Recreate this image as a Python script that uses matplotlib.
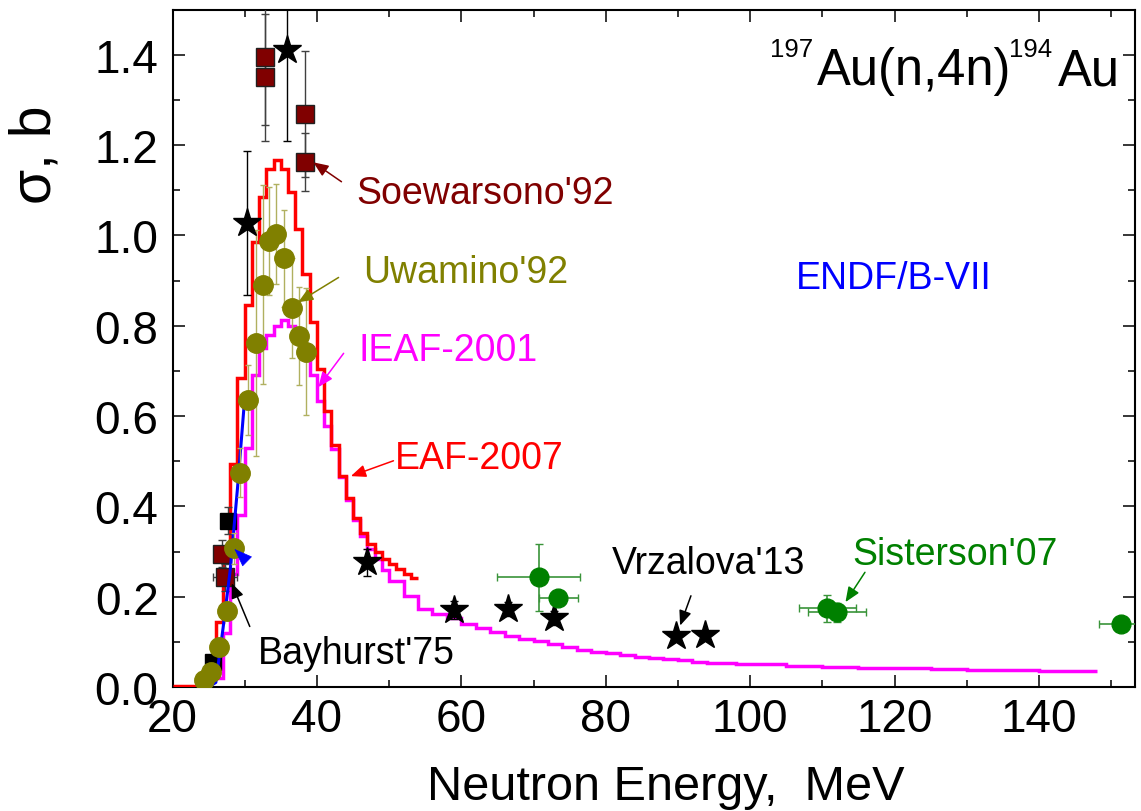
import matplotlib
matplotlib.use("Agg")
import matplotlib.pyplot as plt
from matplotlib.ticker import MultipleLocator

W, H = 1141, 812

DARKRED = "#800000"
OLIVE = "#808000"
OLIVE_ERR = "#b0b060"
GREEN = "#008000"
GREEN_ERR = "#3a943a"
MAGENTA = "#ff00ff"
RED = "#ff0000"
BLUE = "#0000ff"

# EAF-2007 group cross section (step histogram)
eaf_edges = [20, 24] + list(range(25, 55))
eaf_sigma = [0.003, 0.006, 0.03, 0.144, 0.30, 0.494, 0.684, 0.846, 0.985, 1.085,
             1.147, 1.168, 1.147, 1.097, 1.014, 0.915, 0.808, 0.704, 0.612, 0.535,
             0.468, 0.418, 0.374, 0.341, 0.317, 0.298, 0.283, 0.272, 0.261, 0.250,
             0.241]

# IEAF-2001 (step histogram)
ieaf_edges = list(range(26, 51)) + list(range(52, 101, 2)) + list(range(105, 146, 5)) + [148]
ieaf_sigma = [0.02, 0.12, 0.25, 0.38, 0.53, 0.69, 0.75, 0.78, 0.80, 0.813,
              0.80, 0.78, 0.74, 0.69, 0.634, 0.579, 0.527, 0.465, 0.414, 0.37,
              0.335, 0.306, 0.283, 0.26,
              0.235, 0.202, 0.173, 0.162, 0.152, 0.140, 0.130, 0.121, 0.113, 0.106,
              0.101, 0.095, 0.088, 0.082, 0.078, 0.075, 0.070, 0.066, 0.064, 0.061,
              0.059, 0.056, 0.054, 0.053, 0.052,
              0.050, 0.047, 0.045, 0.043, 0.041, 0.039, 0.038, 0.037, 0.036, 0.035]

# ENDF/B-VII
endf_e = [25.0, 26.0, 27.0, 28.0, 29.0, 30.0]
endf_sigma = [0.0, 0.01, 0.13, 0.26, 0.44, 0.64]

# Uwamino'92
uwa_e = [24.3, 25.4, 26.4, 27.5, 28.5, 29.35, 30.5, 31.5, 32.5, 33.4, 34.4, 35.5, 36.5, 37.5, 38.5]
uwa_sigma = [0.015, 0.033, 0.088, 0.169, 0.307, 0.475, 0.636, 0.761, 0.891, 0.988, 1.003,
             0.949, 0.839, 0.777, 0.743]
uwa_err = [0.004, 0.006, 0.012, 0.02, 0.035, 0.055, 0.078, 0.25, 0.22, 0.12, 0.11,
           0.108, 0.11, 0.108, 0.14]

# Soewarsono'92
soe_e = [26.8, 27.3, 32.8, 32.8, 38.3, 38.3]
soe_sigma = [0.295, 0.243, 1.395, 1.35, 1.269, 1.162]
soe_yerr = [0.03, 0.03, 0.15, 0.14, 0.14, 0.064]
soe_xerr = [0.0, 1.7, 0.0, 0.0, 0.0, 0.0]

# Bayhurst'75
bay_e = [25.6, 27.7]
bay_sigma = [0.055, 0.368]
bay_err = [0.01, 0.03]

# Vrzalova'13 and other stars
vrz_e = [30.3, 35.8, 46.9, 59.0, 66.4, 72.8, 89.7, 93.8]
vrz_sigma = [1.028, 1.41, 0.276, 0.17, 0.173, 0.153, 0.112, 0.116]
vrz_err = [0.16, 0.2, 0.03, 0.02, 0.015, 0.015, 0.008, 0.008]

# Sisterson'07
sis_e = [70.7, 73.4, 110.7, 112.0, 151.3]
sis_sigma = [0.243, 0.197, 0.174, 0.165, 0.140]
sis_xerr = [5.8, 2.7, 4.0, 4.0, 3.0]
sis_yerr = [0.074, 0.005, 0.03, 0.02, 0.005]

plt.rcParams.update({
    "font.family": ["Liberation Sans", "DejaVu Sans"],
    "axes.linewidth": 1.5,
    "xtick.direction": "in",
    "ytick.direction": "in",
    "xtick.top": True,
    "ytick.right": True,
})

fig = plt.figure(figsize=(W / 100, H / 100), dpi=100)
ax = fig.add_axes([172.5 / W, 1 - 688 / H, (1135 - 172.5) / W, (688 - 10.7) / H])

ax.stairs(ieaf_sigma, ieaf_edges, baseline=None, color=MAGENTA, lw=2.5, zorder=2)
ax.stairs(eaf_sigma, eaf_edges, baseline=None, color=RED, lw=2.5, zorder=3)

ax.errorbar(soe_e, soe_sigma, yerr=soe_yerr, xerr=soe_xerr, fmt="s", ms=12.5, mfc=DARKRED,
            mec="#202020", mew=1.0, ecolor="#404040", elinewidth=1.0, capsize=3, zorder=4)
ax.errorbar(bay_e, bay_sigma, yerr=bay_err, fmt="s", ms=11, mfc="black", mec="black",
            ecolor="#404040", elinewidth=1.0, capsize=3, zorder=4)
ax.plot(endf_e, endf_sigma, color=BLUE, lw=2.2, zorder=5)
ax.annotate("", xy=(28.3, 0.31), xytext=(29.9, 0.285),
            arrowprops=dict(arrowstyle="-|>,head_length=0.8,head_width=0.3", color=BLUE,
                            lw=0.5, mutation_scale=15), zorder=7)
ax.errorbar(uwa_e, uwa_sigma, yerr=uwa_err, fmt="o", ms=14, mfc=OLIVE, mec=OLIVE,
            ecolor=OLIVE_ERR, elinewidth=1.0, capsize=2.5, zorder=6)
ax.errorbar(vrz_e, vrz_sigma, yerr=vrz_err, fmt="*", ms=21, mfc="black", mec="black",
            ecolor="black", elinewidth=1.0, capsize=3, zorder=6)
ax.errorbar(sis_e, sis_sigma, yerr=sis_yerr, xerr=sis_xerr, fmt="o", ms=13.5, mfc=GREEN,
            mec=GREEN, ecolor=GREEN_ERR, elinewidth=1.2, capsize=3, zorder=6)

ax.set_xlim(20, 153.3)
ax.set_ylim(0, 1.5)
ax.xaxis.set_major_locator(MultipleLocator(20))
ax.xaxis.set_minor_locator(MultipleLocator(10))
ax.yaxis.set_major_locator(MultipleLocator(0.2))
ax.yaxis.set_minor_locator(MultipleLocator(0.1))
ax.yaxis.set_major_formatter(plt.FuncFormatter(lambda v, p: f"{v:.1f}"))
ax.tick_params(which="major", length=8.5, width=1.1, labelsize=33)
ax.tick_params(which="minor", length=5, width=1.1)
ax.tick_params(axis="x", pad=7)
ax.tick_params(axis="y", pad=10)

fs = 27
arrow = "-|>,head_length=0.6,head_width=0.25"
labels = [
    ("Soewarsono'92", 45.5, 1.072, DARKRED, (39.5, 1.162), (43.4, 1.119)),
    ("Uwamino'92", 46.4, 0.897, OLIVE, (37.4, 0.852), (43.0, 0.907)),
    ("IEAF-2001", 45.7, 0.724, MAGENTA, (40.2, 0.664), (43.7, 0.739)),
    ("EAF-2007", 50.8, 0.485, RED, (44.7, 0.467), (50.6, 0.501)),
    ("Bayhurst'75", 31.8, 0.053, "black", (28.2, 0.23), (30.7, 0.134)),
    ("Vrzalova'13", 80.85, 0.252, "black", (90.3, 0.136), (91.8, 0.202)),
    ("Sisterson'07", 114.2, 0.272, GREEN, (113.2, 0.188), (115.9, 0.254)),
]
for text, tx, ty, col, tip, tail in labels:
    ax.text(tx, ty, text, color=col, fontsize=fs, ha="left", va="baseline", zorder=8)
    ax.annotate("", xy=tip, xytext=tail,
                arrowprops=dict(arrowstyle=arrow, color=col, lw=1.1, mutation_scale=15,
                                shrinkA=0, shrinkB=0), zorder=8)
ax.text(106.4, 0.884, "ENDF/B-VII", color=BLUE, fontsize=fs, ha="left", va="baseline")


def ftext(x, y, s, **kw):
    fig.text(x / W, 1 - y / H, s, **kw)


ftext(770, 57, "197", fontsize=18.5, ha="left", va="baseline")
ftext(817, 85, "Au(n,4n)", fontsize=36.5, ha="left", va="baseline")
ftext(1009, 57, "194", fontsize=18.5, ha="left", va="baseline")
ftext(1058, 85, "Au", fontsize=36.5, ha="left", va="baseline")

ftext(666, 800, "Neutron Energy,  MeV", fontsize=35, ha="center", va="baseline")
ftext(36, 155, "σ, b", fontsize=41, ha="center", va="center", rotation=90)

fig.savefig("out.png", dpi=100, facecolor="white")
